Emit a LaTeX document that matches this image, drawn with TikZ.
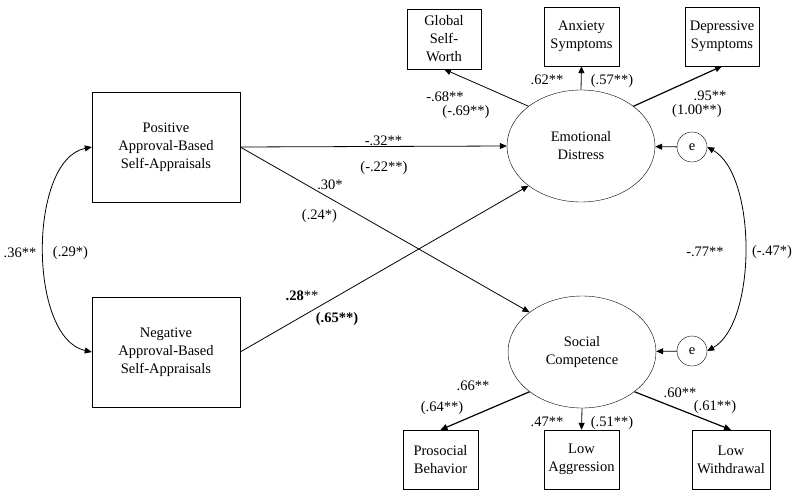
\documentclass[tikz,border=0pt]{standalone}
\usepackage{fontspec}
\setmainfont{Liberation Serif}
\usetikzlibrary{shapes}
\usetikzlibrary{arrows.meta}
\tikzset{sep/.style={
  x=1pt,
  y=-1pt,
  font=\fontsize{14.5}{18}\selectfont
}}
\tikzset{obs/.style={
  draw,
  fill=white,
  shape=rectangle,
  align=center,
  inner sep=0pt,
}}
\tikzset{lat/.style={
  obs,
  shape=ellipse,
  minimum width=148pt,
  minimum height=112pt,
}}
\tikzset{err/.style={
  obs,
  shape=circle,
  minimum size=30pt,
}}
\tikzset{coef/.style={inner sep=0pt}}
\tikzset{pth/.style={line width=0.8pt,-{Triangle[length=7pt,width=6pt]}}}
\tikzset{cov/.style={line width=0.8pt,{Triangle[length=7pt,width=6pt]}-{Triangle[length=7pt,width=6pt]}}}
\tikzset{ldg/.style={pth,line width=1.2pt}}

\begin{document}
\begin{tikzpicture}[sep]
    \useasboundingbox (0,0) rectangle (800,495);
    % Predictors
    \node[obs,minimum width=148pt,minimum height=110pt] (pos) at (166,147)
      {Positive\\Approval-Based\\Self-Appraisals};
    \node[obs,minimum width=148pt,minimum height=110pt] (neg) at (166,352)
      {Negative\\Approval-Based\\Self-Appraisals};
    % Latent outcomes and errors
    \node[lat] (ed) at (581,146) {Emotional\\Distress};
    \node[lat] (sc) at (582,352) {Social\\Competence};
    \node[err] (eed) at (692,147) {e};
    \node[err] (esc) at (692,351) {e};
    % Indicators, top
    \node[obs,minimum width=74pt,minimum height=60pt] (gsw) at (444,39)
      {Global\\Self-\\Worth};
    \node[obs,minimum width=75pt,minimum height=59pt] (anx) at (581.5,36.5)
      {Anxiety\\Symptoms};
    \node[obs,minimum width=74pt,minimum height=59pt] (dep) at (722,36.5)
      {Depressive\\Symptoms};
    % Indicators, bottom
    \node[obs,minimum width=75pt,minimum height=59pt] (pro) at (440.5,459.5)
      {Prosocial\\Behavior};
    \node[obs,minimum width=75pt,minimum height=59pt] (agg) at (581.5,459.5)
      {Low\\Aggression};
    \node[obs,minimum width=78pt,minimum height=59pt] (wdr) at (731,459.5)
      {Low\\Withdrawal};
    % Structural paths
    \draw[pth] (pos.east) -- (ed.west);
    \draw[pth] (pos.east) -- (sc.north west);
    \draw[pth] (neg.east) -- (ed.south west);
    \draw[pth] (eed) -- (ed);
    \draw[pth] (esc) -- (sc);
    % Loadings
    \draw[pth] (ed.north west) -- (gsw.south);
    \draw[pth] (ed.north) -- (anx.south);
    \draw[ldg] (ed.north east) -- (dep.south);
    \draw[ldg] (sc.south west) -- (pro.north);
    \draw[pth] (sc.south) -- (agg.north);
    \draw[ldg] (sc.south east) -- (wdr.north);
    % Covariances
    \draw[cov] (pos.west) .. controls (28,160) and (28,338) .. (neg.west);
    \draw[cov] (eed.east) .. controls (757,175) and (757,323) .. (esc.east);
    % Coefficients
    \node[coef] (c36) at (20,253) {.36**};
    \node[coef] (c29) at (70.5,253) {(.29*)};
    \node[coef] (c32) at (383.5,141) {-.32**};
    \node[coef] (c22) at (384,168) {(-.22**)};
    \node[coef] (c30) at (330,185) {.30*};
    \node[coef] (c24) at (319.5,216) {(.24*)};
    \node[coef] (c28) at (302,296) {\textbf{.28}**};
    \node[coef] (c65) at (337,319) {\textbf{(.65**)}};
    \node[coef] (c68) at (445,97) {-.68**};
    \node[coef] (c69) at (466,112) {(-.69**)};
    \node[coef] (c62) at (547,80) {.62**};
    \node[coef] (c57) at (612,81) {(.57**)};
    \node[coef] (c95) at (710,96) {.95**};
    \node[coef] (c100) at (697,111) {(1.00**)};
    \node[coef] (c77) at (705,252) {-.77**};
    \node[coef] (c47) at (772,252) {(-.47*)};
    \node[coef] (c66) at (473,386) {.66**};
    \node[coef] (c64) at (442,408) {(.64**)};
    \node[coef] (c47b) at (547,422) {.47**};
    \node[coef] (c51) at (612,423) {(.51**)};
    \node[coef] (c60) at (680,393) {.60**};
    \node[coef] (c61) at (715,407) {(.61**)};
  \end{tikzpicture}
\end{document}
